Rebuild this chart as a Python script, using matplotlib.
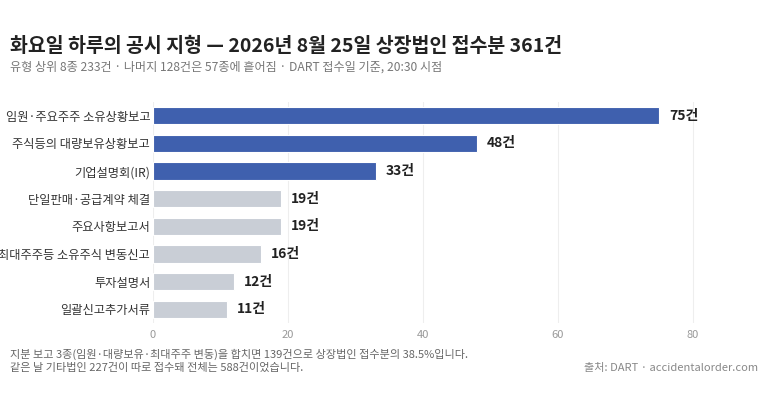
import numpy as np
import matplotlib.pyplot as plt

plt.rcParams['font.family'] = ['Noto Sans CJK KR', 'DejaVu Sans']

# 데이터
labels = ["임원·주요주주 소유상황보고", "주식등의 대량보유상황보고", "기업설명회(IR)",
          "단일판매·공급계약 체결", "주요사항보고서", "최대주주등 소유주식 변동신고",
          "투자설명서", "일괄신고추가서류"]
counts = [75, 48, 33, 19, 19, 16, 12, 11]
highlight = [True, True, True, False, False, False, False, False]
xticks = [0, 20, 40, 60, 80]

BLUE = "#3f60ae"
GRAY = "#c9ced6"

fig = plt.figure(figsize=(7.68, 4.03), dpi=100)
ax = fig.add_axes([153/768, 1-323/403, (720-153)/768, (323-102)/403])

y = np.arange(len(labels))
colors = [BLUE if h else GRAY for h in highlight]
ax.barh(y, counts, height=0.62, color=colors, edgecolor="white", linewidth=0.8, zorder=3)
for yi, v in zip(y, counts):
    ax.text(v + 1.5, yi, f"{v}건", va="center", ha="left", fontsize=10,
            fontweight="bold", color="#222222")

ax.set_yticks(y)
ax.set_yticklabels(labels, fontsize=8.8, color="#333333")
ax.set_ylim(len(labels) - 0.5, -0.5)
ax.set_xlim(0, 84)
ax.set_xticks(xticks)
ax.tick_params(axis="x", labelsize=8, colors="#999999", length=0, pad=5)
ax.tick_params(axis="y", length=0, pad=2)
ax.grid(axis="x", color="#eeeeee", linewidth=0.8, zorder=0)
for s in ax.spines.values():
    s.set_visible(False)

fig.text(10/768, 1-46/403, "화요일 하루의 공시 지형 — 2026년 8월 25일 상장법인 접수분 361건",
         fontsize=14, fontweight="bold", color="#222222", va="center", ha="left")
fig.text(10/768, 1-67/403, "유형 상위 8종 233건 · 나머지 128건은 57종에 흩어짐 · DART 접수일 기준, 20:30 시점",
         fontsize=8.7, color="#777777", va="center", ha="left")

fig.text(10/768, 1-354/403, "지분 보고 3종(임원·대량보유·최대주주 변동)을 합치면 139건으로 상장법인 접수분의 38.5%입니다.",
         fontsize=8, color="#666666", va="center", ha="left")
fig.text(10/768, 1-368/403, "같은 날 기타법인 227건이 따로 접수돼 전체는 588건이었습니다.",
         fontsize=8, color="#666666", va="center", ha="left")
fig.text(758/768, 1-368/403, "출처: DART · accidentalorder.com",
         fontsize=8, color="#888888", va="center", ha="right")

fig.savefig("out.png", dpi=100)
